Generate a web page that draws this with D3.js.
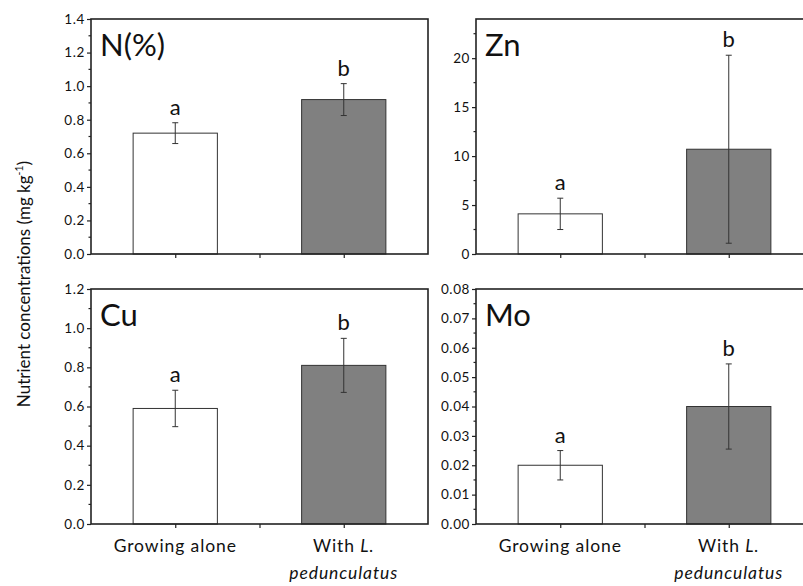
<!DOCTYPE html>
<html>
<head>
<meta charset="utf-8">
<script src="https://cdn.jsdelivr.net/npm/d3@7"></script>
<style>
  html, body { margin: 0; padding: 0; background: #fff; }
  svg { display: block; font-family: Lato, "Open Sans", sans-serif; }
</style>
</head>
<body>
<svg id="chart" width="803" height="586"></svg>
<script>
// Treatment groups on the x axis
const groups = ["Growing alone", "With L. pedunculatus"];
const letters = ["a", "b"];

// Panel names
const panelNames = ["N(%)", "Zn", "Cu", "Mo"];

// Means and error half-widths per nutrient
const nMean = [0.72, 0.92];
const nErr = [0.062, 0.095];
const znMean = [4.1, 10.7];
const znErr = [1.6, 9.6];
const cuMean = [0.59, 0.81];
const cuErr = [0.093, 0.138];
const moMean = [0.020, 0.040];
const moErr = [0.005, 0.0145];

// Axis tick values per panel
const nTicks = [0, 0.2, 0.4, 0.6, 0.8, 1.0, 1.2, 1.4];
const znTicks = [0, 5, 10, 15, 20];
const cuTicks = [0, 0.2, 0.4, 0.6, 0.8, 1.0, 1.2];
const moTicks = [0, 0.01, 0.02, 0.03, 0.04, 0.05, 0.06, 0.07, 0.08];

const panels = [
  { name: panelNames[0], mean: nMean, err: nErr, max: 1.4, ticks: nTicks, minorStep: 0.1, fmt: ".1f", x0: 91, y0: 19, showX: false },
  { name: panelNames[1], mean: znMean, err: znErr, max: 24, ticks: znTicks, minorStep: 2.5, fmt: "d", x0: 476, y0: 19, showX: false },
  { name: panelNames[2], mean: cuMean, err: cuErr, max: 1.2, ticks: cuTicks, minorStep: 0.1, fmt: ".1f", x0: 91, y0: 289, showX: true },
  { name: panelNames[3], mean: moMean, err: moErr, max: 0.08, ticks: moTicks, minorStep: 0.005, fmt: ".2f", x0: 476, y0: 289, showX: true }
];

const W = 337, H = 235;
const svg = d3.select("#chart");
const ink = "#222";

panels.forEach(p => {
  const g = svg.append("g").attr("transform", `translate(${p.x0},${p.y0})`);
  const x = d3.scaleLinear().domain([0, 4]).range([0, W]);
  const y = d3.scaleLinear().domain([0, p.max]).range([H, 0]);
  const pos = [1, 3];
  const barW = x(1) - x(0);

  // Bars
  g.selectAll("rect.bar").data(p.mean).join("rect")
    .attr("class", "bar")
    .attr("x", (d, i) => x(pos[i]) - barW / 2)
    .attr("y", d => y(d))
    .attr("width", barW)
    .attr("height", d => H - y(d))
    .attr("fill", (d, i) => i === 0 ? "#fff" : "#808080")
    .attr("stroke", "#333")
    .attr("stroke-width", 1);

  // Error bars and significance letters
  p.mean.forEach((m, i) => {
    const cx = x(pos[i]);
    const hi = y(m + p.err[i]), lo = y(m - p.err[i]);
    const eg = g.append("g").attr("stroke", "#333").attr("stroke-width", 1);
    eg.append("line").attr("x1", cx).attr("x2", cx).attr("y1", hi).attr("y2", lo);
    eg.append("line").attr("x1", cx - 3).attr("x2", cx + 3).attr("y1", hi).attr("y2", hi);
    eg.append("line").attr("x1", cx - 3).attr("x2", cx + 3).attr("y1", lo).attr("y2", lo);
    g.append("text")
      .attr("x", cx)
      .attr("y", hi - 8)
      .attr("text-anchor", "middle")
      .attr("font-size", 22)
      .attr("fill", "#111")
      .text(letters[i]);
  });

  // Minor y ticks (between the labelled ones)
  const minor = d3.range(p.minorStep, p.max - p.minorStep / 2, p.minorStep)
    .filter(v => !p.ticks.some(t => Math.abs(t - v) < p.minorStep / 10));
  g.selectAll("line.minor").data(minor).join("line")
    .attr("class", "minor")
    .attr("x1", -2.5).attr("x2", 0)
    .attr("y1", d => y(d)).attr("y2", d => y(d))
    .attr("stroke", ink).attr("stroke-width", 1.2);

  // Y axis
  const yAxis = g.append("g")
    .call(d3.axisLeft(y).tickValues(p.ticks).tickFormat(d3.format(p.fmt)).tickSize(4).tickPadding(2));
  yAxis.select(".domain").remove();
  yAxis.selectAll(".tick line").attr("stroke", ink).attr("stroke-width", 1.2);
  yAxis.selectAll(".tick text")
    .attr("font-size", 13.5)
    .attr("letter-spacing", 0.6)
    .attr("fill", "#111")
    .attr("font-family", "Lato, sans-serif");

  // X axis ticks
  const xAxis = g.append("g").attr("transform", `translate(0,${H})`)
    .call(d3.axisBottom(x).tickValues([1, 2, 3]).tickFormat("").tickSize(4));
  xAxis.select(".domain").remove();
  xAxis.selectAll(".tick line").attr("stroke", ink).attr("stroke-width", 1.2);

  // Frame
  g.append("rect")
    .attr("x", 0).attr("y", 0).attr("width", W).attr("height", H)
    .attr("fill", "none").attr("stroke", ink).attr("stroke-width", 1.6);

  // Panel title
  g.append("text")
    .attr("x", 9)
    .attr("y", 37)
    .attr("font-size", 31)
    .attr("fill", "#111")
    .text(p.name);

  // Group labels
  if (p.showX) {
    const lab = g.append("g")
      .attr("font-size", 17.5)
      .attr("letter-spacing", 0.9)
      .attr("fill", "#111")
      .attr("text-anchor", "middle");
    lab.append("text").attr("x", x(pos[0])).attr("y", H + 28).text(groups[0]);
    const t = lab.append("text").attr("x", x(pos[1])).attr("y", H + 28);
    t.append("tspan").text("With ");
    t.append("tspan").attr("font-style", "italic").text("L.");
    lab.append("text").attr("x", x(pos[1])).attr("y", H + 55)
      .attr("font-style", "italic").text("pedunculatus");
  }
});

// Shared y-axis title
const yt = svg.append("text")
  .attr("transform", "translate(30,284) rotate(-90)")
  .attr("text-anchor", "middle")
  .attr("font-size", 17)
  .attr("fill", "#111");
yt.append("tspan").text("Nutrient concentrations (mg kg");
yt.append("tspan").attr("font-size", 10.5).attr("dy", -7).text("-1");
yt.append("tspan").attr("dy", 7).text(")");
</script>
</body>
</html>
